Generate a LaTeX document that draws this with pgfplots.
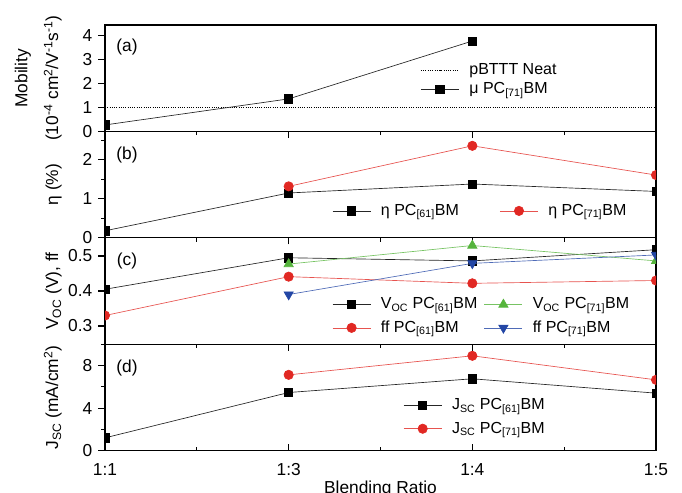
\documentclass[border=0pt]{standalone}
\usepackage{fontspec}
\setmainfont{Liberation Sans}
\usepackage{pgfplots}
\pgfplotsset{compat=1.18}
\usepgfplotslibrary{groupplots}

\definecolor{mred}{RGB}{225,40,35}
\definecolor{mgreen}{RGB}{85,180,60}
\definecolor{mblue}{RGB}{35,70,165}

\pgfplotsset{
  panel/.style={
    scale only axis, width=413.25pt, height=79.8pt,
    xmin=0, xmax=6, xtick={0,2,4,6}, minor xtick={1,3,5},
    tick align=outside, xtick pos=bottom, ytick pos=left,
    major tick length=5pt, minor tick length=2.8pt,
    tick style={black, line width=0.8pt},
    axis line style={line width=1pt},
    clip marker paths=true,
    /pgf/number format/assume math mode=true,
    ylabel style={at={(axis description cs:-0.078,0.5)}, anchor=south, inner sep=0pt, align=center},
    xlabel style={yshift=4.5pt},
    legend style={draw=none, fill=none, inner sep=0pt, anchor=north west,
      font=\fontsize{12}{14}\selectfont,
      nodes={inner sep=0pt}, legend cell align=left,
      /tikz/every odd column/.append style={column sep=7.5pt}},
    legend image code/.code={\draw[mark repeat=2,mark phase=2] plot coordinates {(0pt,0pt) (14.25pt,0pt) (28.5pt,0pt)};},
  },
  sq/.style={black!85, line width=0.5pt, mark=square*, mark size=3.1pt, mark options={solid, fill=black, draw=black}},
  ci/.style={mred!80, line width=0.5pt, mark=*, mark size=3.5pt, mark options={solid, fill=mred, draw=mred}},
  tu/.style={mgreen!80, line width=0.5pt, mark=triangle*, mark size=4pt, mark options={solid, fill=mgreen, draw=mgreen}},
  td/.style={mblue!80, line width=0.5pt, mark=triangle*, mark size=4pt, mark options={solid, fill=mblue, draw=mblue, rotate=180}},
}

\begin{document}
\fontsize{13}{15}\selectfont
\begin{tikzpicture}[font=\fontsize{13}{15}\selectfont]
\begin{groupplot}[group style={group size=1 by 4, vertical sep=0pt, xticklabels at=edge bottom, xlabels at=edge bottom}, panel]

% (a) mobility
\nextgroupplot[ymin=0, ymax=4.45, ytick={0,1,2,3,4},
  ylabel={Mobility\\[8pt](10\textsuperscript{-4} cm\textsuperscript{2}/V\textsuperscript{-1}s\textsuperscript{-1})},
  legend style={at={(0.572,0.64)}, row sep=4pt}]
\addplot[black, densely dotted, line width=0.7pt] coordinates {(0,1) (6,1)};
\addlegendentry{pBTTT Neat}
\addplot[sq] coordinates {(0,0.27) (2,1.36) (4,3.78)};
\addlegendentry{μ PC\textsubscript{[71]}BM}
\node at (rel axis cs:0.04,0.79) {(a)};

% (b) efficiency
\nextgroupplot[ymin=0, ymax=2.73, ytick={0,1,2}, minor ytick={0.5,1.5,2.5},
  ylabel={η (\%)},
  legend columns=2,
  legend style={at={(0.412,0.32)}, /tikz/every even column/.append style={column sep=30.5pt}}]
\addplot[sq] coordinates {(0,0.18) (2,1.15) (4,1.38) (6,1.19)};
\addlegendentry{η PC\textsubscript{[61]}BM}
\addplot[ci] coordinates {(2,1.32) (4,2.36) (6,1.61)};
\addlegendentry{η PC\textsubscript{[71]}BM}
\node at (rel axis cs:0.04,0.78) {(b)};

% (c) Voc and ff
\nextgroupplot[ymin=0.248, ymax=0.552, ytick={0.3,0.4,0.5},
  yticklabel style={/pgf/number format/fixed, /pgf/number format/precision=1, /pgf/number format/fixed zerofill},
  ylabel={V\textsubscript{OC} (V), ff},
  legend columns=2,
  legend style={at={(0.412,0.44)}, row sep=7pt, /tikz/every even column/.append style={column sep=5pt}}]
\addplot[sq] coordinates {(0,0.405) (2,0.495) (4,0.486) (6,0.518)};
\addlegendentry{V\textsubscript{OC} PC\textsubscript{[61]}BM}
\addplot[tu] coordinates {(2,0.477) (4,0.530) (6,0.486)};
\addlegendentry{V\textsubscript{OC} PC\textsubscript{[71]}BM}
\addplot[ci] coordinates {(0,0.330) (2,0.441) (4,0.422) (6,0.430)};
\addlegendentry{ff PC\textsubscript{[61]}BM}
\addplot[td] coordinates {(2,0.390) (4,0.479) (6,0.503)};
\addlegendentry{ff PC\textsubscript{[71]}BM}
\node at (rel axis cs:0.04,0.78) {(c)};

% (d) Jsc
\nextgroupplot[ymin=0, ymax=10, ytick={0,4,8}, minor ytick={2,6,10},
  xticklabels={1:1,1:3,1:4,1:5}, xlabel={Blending Ratio},
  every major x tick/.append style={yshift=5pt},
  every minor x tick/.append style={yshift=2.8pt},
  ylabel={J\textsubscript{SC} (mA/cm\textsuperscript{2})},
  legend style={at={(0.541,0.49)}, row sep=7pt}]
\addplot[sq] coordinates {(0,1.2) (2,5.46) (4,6.75) (6,5.40)};
\addlegendentry{J\textsubscript{SC} PC\textsubscript{[61]}BM}
\addplot[ci] coordinates {(2,7.12) (4,8.91) (6,6.65)};
\addlegendentry{J\textsubscript{SC} PC\textsubscript{[71]}BM}
\node at (rel axis cs:0.04,0.78) {(d)};
\end{groupplot}
\pgfresetboundingbox
\path ([xshift=-78.75pt,yshift=18.75pt]group c1r1.north west) rectangle ([xshift=19.5pt,yshift=-31.7pt]group c1r4.south east);
\end{tikzpicture}
\end{document}
